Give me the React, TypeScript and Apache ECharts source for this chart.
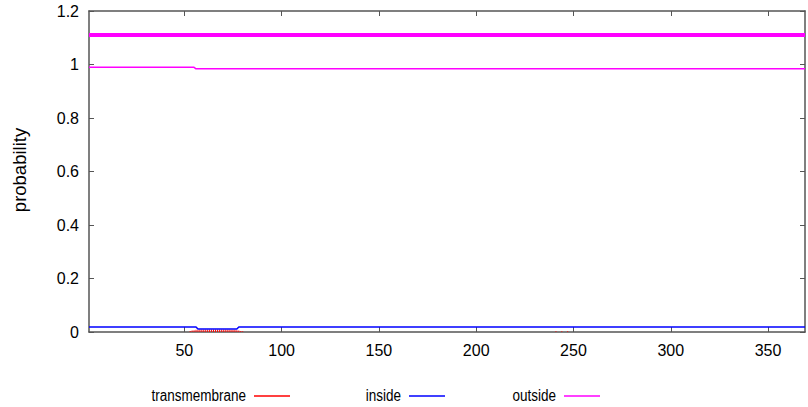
import React, { useEffect, useRef } from "react";
import * as echarts from "echarts";

const xMin = 1;
const xMax = 369;
const xTicks = [50, 100, 150, 200, 250, 300, 350];

// transmembrane probability (impulses)
const tmResidues = [53, 54, 55, 56, 57, 58, 59, 60, 61, 62, 63, 64, 65, 66, 67, 68, 69, 70, 71, 72, 73, 74, 75, 76, 77, 78, 79, 80, 241, 244, 247];
const tmValues = [0.004, 0.006, 0.007, 0.008, 0.008, 0.009, 0.009, 0.009, 0.009, 0.009, 0.009, 0.009, 0.009, 0.009, 0.009, 0.009, 0.009, 0.009, 0.009, 0.009, 0.009, 0.008, 0.008, 0.008, 0.007, 0.006, 0.004, 0.003, 0.003, 0.003, 0.003];

// inside probability (line)
const insideResidues = [1, 56, 57, 77, 78, 369];
const insideValues = [0.019, 0.019, 0.011, 0.011, 0.019, 0.019];

// outside probability (line)
const outsideResidues = [1, 55, 56, 369];
const outsideValues = [0.9895, 0.9895, 0.984, 0.984];

// predicted topology (thick line)
const topoResidues = [1, 369];
const topoValues = [1.11, 1.11];

const FONT = "Liberation Sans, Arial, Helvetica, sans-serif";
const FRAME = "#555555";

export default function App() {
  const ref = useRef<HTMLDivElement>(null);
  useEffect(() => {
    if (!ref.current) return;
    const chart = echarts.init(ref.current, null, { renderer: "svg" });
    const zip = (xs: number[], ys: number[]) => xs.map((x, i) => [x, ys[i]]);
    const tickLabelStyle = { color: "#000", fontFamily: FONT, fontSize: 16 };
    const legendItems = [
      { label: "transmembrane", textRight: 246, lineX1: 254, lineX2: 290, color: "#ff0000" },
      { label: "inside", textRight: 401, lineX1: 409, lineX2: 445, color: "#0000ff" },
      { label: "outside", textRight: 556, lineX1: 564, lineX2: 600, color: "#ff00ff" },
    ];
    const legendY = 396;
    const graphic: any[] = [
      {
        type: "text",
        x: 19,
        y: 170,
        rotation: Math.PI / 2,
        style: {
          text: "probability",
          fill: "#000",
          font: `18.5px ${FONT}`,
          textAlign: "center",
          textVerticalAlign: "middle",
        },
      },
    ];
    legendItems.forEach((it) => {
      graphic.push({
        type: "text",
        x: it.textRight,
        y: legendY,
        scaleY: 1.2,
        style: {
          text: it.label,
          fill: "#000",
          font: `13.5px ${FONT}`,
          textAlign: "right",
          textVerticalAlign: "middle",
        },
      });
      graphic.push({
        type: "line",
        shape: { x1: it.lineX1, y1: legendY, x2: it.lineX2, y2: legendY },
        style: { stroke: it.color, lineWidth: 1.5 },
      });
    });

    chart.setOption({
      animation: false,
      backgroundColor: "#fff",
      grid: { left: 89, top: 11, width: 716, height: 321, containLabel: false },
      xAxis: [
        {
          type: "value",
          min: xMin,
          max: xMax,
          position: "bottom",
          axisLine: { show: true, lineStyle: { color: FRAME, width: 1.5 } },
          axisTick: { show: true, inside: true, length: 5, customValues: xTicks, lineStyle: { color: FRAME } },
          axisLabel: { show: true, customValues: xTicks, margin: 10, ...tickLabelStyle },
          splitLine: { show: false },
        },
        {
          type: "value",
          min: xMin,
          max: xMax,
          position: "top",
          axisLine: { show: true, onZero: false, lineStyle: { color: FRAME, width: 1.5 } },
          axisTick: { show: true, inside: true, length: 5, customValues: xTicks, lineStyle: { color: FRAME } },
          axisLabel: { show: false, customValues: xTicks },
          splitLine: { show: false },
        },
      ],
      yAxis: [
        {
          type: "value",
          min: 0,
          max: 1.2,
          interval: 0.2,
          position: "left",
          axisLine: { show: true, lineStyle: { color: FRAME, width: 1.5 } },
          axisTick: { show: true, inside: true, length: 5, lineStyle: { color: FRAME } },
          axisLabel: { show: true, margin: 10, ...tickLabelStyle },
          splitLine: { show: false },
        },
        {
          type: "value",
          min: 0,
          max: 1.2,
          interval: 0.2,
          position: "right",
          axisLine: { show: true, onZero: false, lineStyle: { color: FRAME, width: 1.5 } },
          axisTick: { show: true, inside: true, length: 5, lineStyle: { color: FRAME } },
          axisLabel: { show: false },
          splitLine: { show: false },
        },
      ],
      series: [
        {
          name: "transmembrane",
          type: "bar",
          xAxisIndex: 0,
          yAxisIndex: 0,
          barWidth: 1,
          itemStyle: { color: "#ff0000" },
          data: zip(tmResidues, tmValues),
          z: 2,
        },
        {
          name: "inside",
          type: "line",
          xAxisIndex: 0,
          yAxisIndex: 0,
          showSymbol: false,
          symbol: "none",
          lineStyle: { color: "#0000ff", width: 1.5 },
          data: zip(insideResidues, insideValues),
          z: 3,
        },
        {
          name: "outside",
          type: "line",
          xAxisIndex: 0,
          yAxisIndex: 0,
          showSymbol: false,
          symbol: "none",
          lineStyle: { color: "#ff00ff", width: 1.5 },
          data: zip(outsideResidues, outsideValues),
          z: 4,
        },
        {
          name: "topology",
          type: "line",
          xAxisIndex: 0,
          yAxisIndex: 0,
          showSymbol: false,
          symbol: "none",
          lineStyle: { color: "#ff00ff", width: 4 },
          data: zip(topoResidues, topoValues),
          z: 4,
        },
      ],
      graphic,
    });
    return () => chart.dispose();
  }, []);
  return (
    <div
      ref={ref}
      style={{ position: "fixed", left: 0, top: 0, width: 808, height: 407, background: "#fff" }}
    />
  );
}
